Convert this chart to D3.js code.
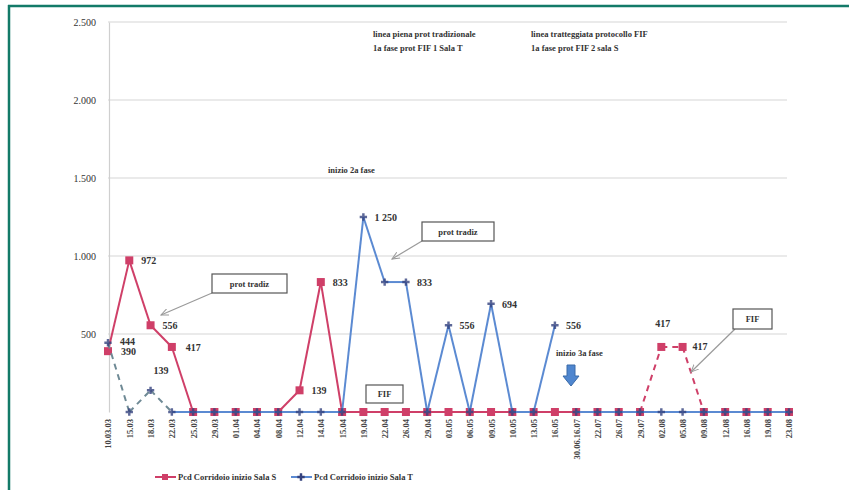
<!DOCTYPE html>
<html>
<head>
<meta charset="utf-8">
<script src="https://cdn.jsdelivr.net/npm/d3@7"></script>
<style>
  body { margin: 0; background: #fff; }
  svg { display: block; font-family: "Liberation Serif", "DejaVu Serif", serif; }
</style>
</head>
<body>
<div id="chart"></div>
<script>
"use strict";

// dates on the x axis
var dates = ["10.03.03", "15.03", "18.03", "22.03", "25.03", "29.03", "01.04", "04.04", "08.04",
	"12.04", "14.04", "15.04", "19.04", "22.04", "26.04", "29.04", "03.05", "06.05", "09.05",
	"10.05", "13.05", "16.05", "30.06.16.07", "22.07", "26.07", "29.07", "02.08", "05.08", "09.08",
	"12.08", "16.08", "19.08", "23.08"];

// Pcd Corridoio inizio Sala S (red)
var salaS = [390, 972, 556, 417, 0, 0, 0, 0, 0, 139, 833, 0, 0, 0, 0, 0, 0, 0, 0, 0, 0, 0,
	0, 0, 0, 0, 417, 417, 0, 0, 0, 0, 0];
// segment style from point i to i+1: "s" solid, "d" dashed, "-" no line
var salaSSeg = "sssssssssssssssssssssssssdddssss";

// Pcd Corridoio inizio Sala T (blue)
var salaT = [444, 0, 139, 0, 0, 0, 0, 0, 0, 0, 0, 0, 1250, 833, 833, 0, 556, 0, 694, 0, 0, 556,
	0, 0, 0, 0, 0, 0, 0, 0, 0, 0, 0];
var salaTSeg = "dddssssssssssssssssss-ssssssssss";

var yTicks = [0, 500, 1000, 1500, 2000, 2500];

// value labels: [series, index, text, dx, dy]
var valueLabels = [
	["S", 0, "390", 13, 4], ["T", 0, "444", 12, 2], ["S", 1, "972", 12, 4], ["S", 2, "556", 12, 4],
	["S", 3, "417", 14, 4], ["T", 2, "139", 3, -16], ["S", 9, "139", 12, 4], ["S", 10, "833", 12, 4],
	["T", 12, "1 250", 11, 4], ["T", 14, "833", 11, 4], ["T", 16, "556", 11, 4], ["T", 18, "694", 11, 4],
	["T", 21, "556", 11, 4], ["S", 26, "417", -6, -20], ["S", 27, "417", 10, 3]
];

var notes = [
	{ x: 373, y: 37, text: "linea piena prot tradizionale" },
	{ x: 373, y: 51, text: "1a fase prot FIF 1 Sala T" },
	{ x: 531, y: 37, text: "linea tratteggiata protocollo FIF" },
	{ x: 531, y: 51, text: "1a fase prot FIF 2 sala S" },
	{ x: 328, y: 173, text: "inizio 2a fase" },
	{ x: 556, y: 356, text: "inizio 3a fase" }
];

// callout boxes: box rect, text, arrow from -> to
var callouts = [
	{ box: [212, 274, 75, 19], text: "prot tradiz", from: [212, 293], to: [161, 315] },
	{ box: [422, 222, 72, 19], text: "prot tradiz", from: [422, 241], to: [392, 259] },
	{ box: [366, 385, 37, 18], text: "FIF", from: null, to: null },
	{ box: [733, 309, 39, 20], text: "FIF", from: [735, 329], to: [691, 372] }
];

var W = 849, H = 490;
var red = "#cf3f68", blue = "#5b8ad2", navy = "#34427e";

var svg = d3.select("#chart").append("svg")
	.attr("width", W)
	.attr("height", H);

svg.append("defs").append("marker")
	.attr("id", "arr")
	.attr("viewBox", "0 0 10 10")
	.attr("refX", 9).attr("refY", 5)
	.attr("markerWidth", 7).attr("markerHeight", 7)
	.attr("orient", "auto")
	.append("path")
	.attr("d", "M0,1 L9,5 L0,9")
	.attr("fill", "none")
	.attr("stroke", "#9a9a9a")
	.attr("stroke-width", 1.2);

let x = d3.scalePoint().domain(dates).range([108, 789]);
let y = d3.scaleLinear().domain([0, 2500]).range([412, 22]);

let it = d3.formatLocale({ decimal: ",", thousands: ".", grouping: [3], currency: ["", "€"] });
let fmt = it.format(",d");

// gridlines
svg.append("g")
	.selectAll("line")
	.data(yTicks.filter(d => d > 0))
	.enter().append("line")
	.attr("x1", 108).attr("x2", 787)
	.attr("y1", d => y(d)).attr("y2", d => y(d))
	.attr("stroke", "#d6d6d6")
	.attr("stroke-width", 1.2);

// y axis
let yAxis = svg.append("g")
	.attr("transform", "translate(109,0)")
	.call(d3.axisLeft(y).tickValues(yTicks).tickSize(0).tickPadding(13)
		.tickFormat(d => d === 0 ? "" : fmt(d)));
yAxis.select(".domain").attr("stroke", "#cfcfcf").attr("stroke-width", 1.2);
yAxis.selectAll("text").attr("font-size", 10).attr("fill", "#333").attr("font-family", "Liberation Serif");

// x axis
let xAxis = svg.append("g")
	.attr("transform", "translate(0,412)")
	.call(d3.axisBottom(x).tickSize(0));
xAxis.select(".domain").remove();
xAxis.selectAll("text")
	.attr("font-size", 8.5)
	.attr("font-weight", "bold")
	.attr("fill", "#444")
	.attr("font-family", "Liberation Serif")
	.attr("text-anchor", "end")
	.attr("transform", "rotate(-90)")
	.attr("x", -7)
	.attr("y", 0)
	.attr("dy", "0.35em");

// series line segments
function drawSegments(values, seg, colour) {
	let g = svg.append("g");
	for (let i = 0; i < values.length - 1; i++) {
		if (seg[i] === "-") continue;
		g.append("line")
			.attr("x1", x(dates[i])).attr("y1", y(values[i]))
			.attr("x2", x(dates[i + 1])).attr("y2", y(values[i + 1]))
			.attr("stroke", seg[i] === "d" && colour === blue ? "#6f8a95" : colour)
			.attr("stroke-width", 2)
			.attr("stroke-dasharray", seg[i] === "d" ? "6,5" : null);
	}
}

drawSegments(salaS, salaSSeg, red);
svg.append("g").selectAll("rect")
	.data(salaS)
	.enter().append("rect")
	.attr("x", (d, i) => x(dates[i]) - 4)
	.attr("y", d => y(d) - 4)
	.attr("width", 8).attr("height", 8)
	.attr("fill", red);

drawSegments(salaT, salaTSeg, blue);
svg.append("g").selectAll("path")
	.data(salaT)
	.enter().append("path")
	.attr("transform", (d, i) => `translate(${x(dates[i])},${y(d)})`)
	.attr("d", d3.symbol().type(d3.symbolCross).size(30))
	.attr("fill", navy)
	.attr("opacity", 0.8);

// value labels
svg.append("g").selectAll("text")
	.data(valueLabels)
	.enter().append("text")
	.attr("x", d => x(dates[d[1]]) + d[3])
	.attr("y", d => y((d[0] === "S" ? salaS : salaT)[d[1]]) + d[4])
	.attr("font-size", 10)
	.attr("font-weight", "bold")
	.attr("fill", "#333")
	.text(d => d[2]);

// notes
svg.append("g").selectAll("text")
	.data(notes)
	.enter().append("text")
	.attr("x", d => d.x).attr("y", d => d.y)
	.attr("font-size", 8.5)
	.attr("font-weight", "bold")
	.attr("fill", "#333")
	.text(d => d.text);

// callouts
callouts.forEach(c => {
	if (c.from) {
		svg.append("line")
			.attr("x1", c.from[0]).attr("y1", c.from[1])
			.attr("x2", c.to[0]).attr("y2", c.to[1])
			.attr("stroke", "#9a9a9a")
			.attr("stroke-width", 1.2)
			.attr("marker-end", "url(#arr)");
	}
	svg.append("rect")
		.attr("x", c.box[0]).attr("y", c.box[1])
		.attr("width", c.box[2]).attr("height", c.box[3])
		.attr("fill", "#fff")
		.attr("stroke", "#555")
		.attr("stroke-width", 1.2);
	svg.append("text")
		.attr("x", c.box[0] + c.box[2] / 2).attr("y", c.box[1] + c.box[3] / 2 + 3)
		.attr("text-anchor", "middle")
		.attr("font-size", 8.5)
		.attr("font-weight", "bold")
		.attr("fill", "#333")
		.text(c.text);
});

// blue block arrow under "inizio 3a fase"
svg.append("path")
	.attr("d", "M567,365 L575,365 L575,376 L579,376 L571,386 L563,376 L567,376 Z")
	.attr("fill", "#4f86cf")
	.attr("stroke", "#3b6aa8")
	.attr("stroke-width", 1);

// legend
let legend = svg.append("g").attr("font-size", 8.5).attr("fill", "#333");
legend.append("line").attr("x1", 155).attr("x2", 176).attr("y1", 477).attr("y2", 477)
	.attr("stroke", red).attr("stroke-width", 2);
legend.append("rect").attr("x", 162).attr("y", 474).attr("width", 6).attr("height", 6).attr("fill", red);
legend.append("text").attr("x", 178).attr("y", 480).attr("font-weight", "bold").text("Pcd Corridoio inizio Sala S");
legend.append("line").attr("x1", 291).attr("x2", 312).attr("y1", 477).attr("y2", 477)
	.attr("stroke", blue).attr("stroke-width", 2);
legend.append("path").attr("transform", "translate(301,477)")
	.attr("d", d3.symbol().type(d3.symbolCross).size(30)).attr("fill", navy);
legend.append("text").attr("x", 314).attr("y", 480).attr("font-weight", "bold").text("Pcd Corridoio inizio Sala T");

// teal frame
svg.append("line").attr("x1", 9).attr("x2", 9).attr("y1", 5).attr("y2", H)
	.attr("stroke", "#137a68").attr("stroke-width", 2.5);
svg.append("line").attr("x1", 8).attr("x2", W).attr("y1", 6).attr("y2", 6)
	.attr("stroke", "#137a68").attr("stroke-width", 2.5);
</script>
</body>
</html>
